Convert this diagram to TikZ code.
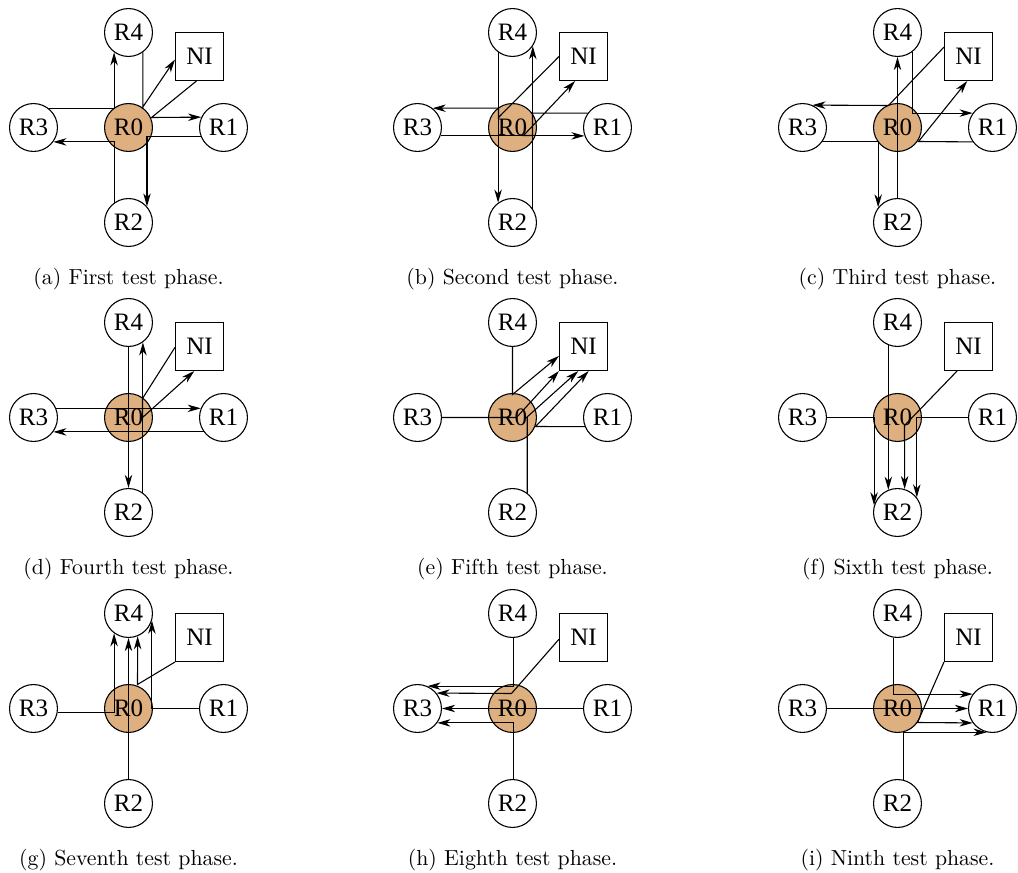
\documentclass[tikz,border=0pt]{standalone}
\usepackage{fontspec}
\newfontfamily\figfont{Liberation Serif}
\usetikzlibrary{arrows.meta,positioning}
\definecolor{hubtan}{RGB}{222,176,128}

\begin{document}
\begin{tikzpicture}[x=0.459pt,y=-0.459pt,
  router/.style={circle,draw,line width=0.5pt,minimum size=22pt,inner sep=0pt,font=\figfont\fontsize{11.5pt}{13pt}\selectfont},
  hub/.style={router,fill=hubtan},
  ni/.style={rectangle,draw,line width=0.5pt,minimum size=22pt,inner sep=0pt,font=\figfont\fontsize{11.5pt}{13pt}\selectfont},
  flow/.style={line width=0.5pt,-{Stealth[length=6pt,width=3.4pt,inset=1.8pt]}},
  caption/.style={font=\fontsize{10pt}{12pt}\selectfont}]
\useasboundingbox (0,0) rectangle (1018,873);

% routers, network interface and caption of every test phase
\foreach \p/\cx/\cy/\ord in {a/128.5/127.5/First,b/512.5/127.5/Second,c/897.5/127.5/Third,
    d/128.5/417.5/Fourth,e/512.5/417.5/Fifth,f/897.5/417.5/Sixth,
    g/128.5/708.5/Seventh,h/512.5/708.5/Eighth,i/897.5/708.5/Ninth}{
  \begin{scope}[shift={(\cx,\cy)}]
  \node[hub] (\p0) at (0,0) {R0};
  \node[router] (\p1) at (95,0) {R1};
  \node[router] (\p2) at (0,95) {R2};
  \node[router] (\p3) at (-95,0) {R3};
  \node[router] (\p4) at (0,-95) {R4};
  \node[ni] (\p5) at (71,-71) {NI};
  \node[caption] (cap\p) at (0,152) {(\p) \ord{} test phase.};
  \end{scope}
}

% (a) first test phase
\begin{scope}[shift={(128.5,127.5)}]
\draw[flow] (a3.52) -| (a4.-126);
\draw[flow] (a4.-54) |- (14,-20) -- (a5.187);
\draw[flow] (a5.263) -- (23,-10) -- (a1.155);
\draw[flow] (a1.202) -| (a2.41);
\draw[flow] (a2.126) |- (a3.-36);
\end{scope}

% (b) second test phase
\begin{scope}[shift={(512.5,127.5)}]
\draw[flow] (b4.-126) -- (b2.126);
\draw[flow] (b2.34) -- (b4.-34);
\draw[flow] (b5.180) -- (-14,-10) |- (b3.52);
\draw[flow] (b3.-20) -- (b1.200);
\draw[flow] (b1.144) -| (20,8) -- (11,8) -- (b5.251);
\end{scope}

% (c) third test phase
\begin{scope}[shift={(897.5,127.5)}]
\draw[flow] (c2.north) -- (c4.south);
\draw[flow] (c4.-51) |- (c1.144);
\draw[flow] (c5.159) -- (-9,-22) -- (c3.66);
\draw[flow] (c3.-36) -| (c2.142);
\draw[flow] (c1.216) -- (21,14) -- (c5.267);
\end{scope}

% (d) fourth test phase
\begin{scope}[shift={(128.5,417.5)}]
\draw[flow] (d4.south) -- (d2.north);
\draw[flow] (d2.54) -- (d4.-54);
\draw[flow] (d3.22) -- (d1.158);
\draw[flow] (d1.216) -- (d3.-36);
\draw[flow] (d5.182) -- (14,-19) -- (14,0) -- (d5.258);
\end{scope}

% (e) fifth test phase
\begin{scope}[shift={(512.5,417.5)}]
\draw[flow] (e4.south) -- (0,-23) -- (e5.201);
\draw[flow] (e3.east) -- (4,0) -- (e5.225);
\draw[flow] (e2.53) |- (14,0) -- (e5.258);
\draw[flow] (e1.202) -- (23,9) -- (e5.282);
\end{scope}

% (f) sixth test phase
\begin{scope}[shift={(897.5,417.5)}]
\draw[flow] (f4.-112) -- (f2.112);
\draw[flow] (f3.east) -| (f2.163);
\draw[flow] (f5.245) -- (7,8) -- (f2.73);
\draw[flow] (f1.west) -| (f2.38);
\end{scope}

% (g) seventh test phase
\begin{scope}[shift={(128.5,708.5)}]
\draw[flow] (g3.-10) -| (g4.-126);
\draw[flow] (g2.north) -- (g4.south);
\draw[flow] (g5.225) -- (9,-24) -- (g4.-68);
\draw[flow] (g1.west) -| (g4.-17);
\end{scope}

% (h) eighth test phase
\begin{scope}[shift={(512.5,708.5)}]
\draw[flow] (h4.-88) |- (h3.66);
\draw[flow] (h5.184) -- (-1,-15) -- (h3.39);
\draw[flow] (h1.west) -- (h3.east);
\draw[flow] (h2.88) |- (h3.-36);
\end{scope}

% (i) ninth test phase
\begin{scope}[shift={(897.5,708.5)}]
\draw[flow] (i4.-99) |- (i1.144);
\draw[flow] (i3.east) -- (i1.west);
\draw[flow] (i5.225) -- (20,14) -- (i1.216);
\draw[flow] (i2.76) |- (i1.256);
\end{scope}

\end{tikzpicture}
\end{document}
